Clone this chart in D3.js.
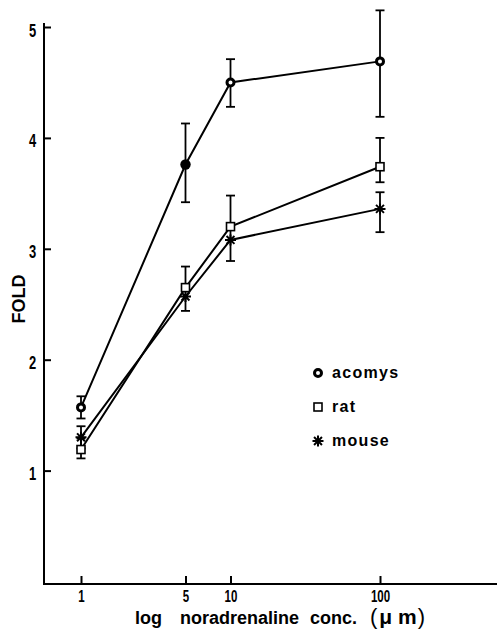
<!DOCTYPE html>
<html>
<head>
<meta charset="utf-8">
<script src="https://cdn.jsdelivr.net/npm/d3@7/dist/d3.min.js"></script>
<style>
  body { margin: 0; background: #fff; }
  svg text { fill: #000; }
</style>
</head>
<body>
<div id="chart"></div>
<script>
// noradrenaline concentrations (uM), one column per dose
const concs = [1, 5, 10, 100];

// fold values, with upper / lower error bar lengths
const acomys     = [1.57, 3.76, 4.50, 4.69];
const acomysUp   = [0.10, 0.37, 0.21, 0.46];
const acomysDown = [0.10, 0.34, 0.22, 0.50];

const rat     = [1.19, 2.65, 3.20, 3.74];
const ratUp   = [0.10, 0.19, 0.28, 0.26];
const ratDown = [0.08, 0.00, 0.12, 0.14];

const mouse     = [1.30, 2.57, 3.08, 3.36];
const mouseUp   = [0.10, 0.00, 0.00, 0.15];
const mouseDown = [0.10, 0.13, 0.19, 0.21];

const yTicks = [1, 2, 3, 4, 5];
const xTicks = [1, 5, 10, 100];
const legendNames = ["acomys", "rat", "mouse"];

const width = 497;
const height = 630;

const svg = d3.select("#chart")
  .append("svg")
  .attr("width", width)
  .attr("height", height);

// scales
const x = d3.scaleLog().domain([1, 100]).range([81, 380]);
const y = d3.scaleLinear().domain([0, 5]).range([581.5, 27]);

const axisX0 = 44;    // y axis position
const axisY0 = 584;   // x axis position
const plain = "'Liberation Sans', Arial, Helvetica, sans-serif";

/*
  Axes
*/

// y axis line
svg.append("line")
  .attr("x1", axisX0).attr("x2", axisX0)
  .attr("y1", 23).attr("y2", axisY0 + 1)
  .attr("stroke", "#000").attr("stroke-width", 2);

// x axis line
svg.append("line")
  .attr("x1", axisX0 - 1).attr("x2", width)
  .attr("y1", axisY0).attr("y2", axisY0)
  .attr("stroke", "#000").attr("stroke-width", 2);

// tick labels are squeezed sideways to look like the condensed type of the figure
const gy = svg.append("g")
  .attr("transform", `translate(${axisX0},0)`)
  .call(d3.axisLeft(y).tickValues(yTicks).tickFormat(d3.format("d"))
    .tickSize(-7).tickPadding(9));
gy.select(".domain").remove();
gy.selectAll(".tick line").attr("stroke", "#000").attr("stroke-width", 2);
gy.selectAll(".tick text")
  .attr("font-family", plain)
  .attr("font-weight", "bold")
  .attr("font-size", "18px")
  .attr("x", -11)
  .attr("dy", "0.5em")
  .attr("transform", "scale(0.72,1)");

const gx = svg.append("g")
  .attr("transform", `translate(0,${axisY0})`)
  .call(d3.axisBottom(x).tickValues(xTicks).tickFormat(d3.format("d"))
    .tickSize(-8).tickPadding(7));
gx.select(".domain").remove();
gx.selectAll(".tick line").attr("stroke", "#000").attr("stroke-width", 2);
gx.selectAll(".tick text")
  .attr("font-family", plain)
  .attr("font-weight", "bold")
  .attr("font-size", "16px")
  .attr("transform", "scale(0.72,1)");

// axis titles
svg.append("text")
  .attr("transform", "translate(25,299) rotate(-90)")
  .attr("text-anchor", "middle")
  .attr("font-family", plain)
  .attr("font-weight", "bold")
  .attr("font-size", "18px")
  .text("FOLD");

const xt = svg.append("text")
  .attr("y", 624)
  .attr("font-family", plain)
  .attr("font-weight", "bold")
  .attr("font-size", "18px");
xt.append("tspan").attr("x", 135).text("log");
xt.append("tspan").attr("x", 180).text("noradrenaline");
xt.append("tspan").attr("x", 310).text("conc.");
xt.append("tspan").attr("x", 370).attr("font-size", "22px")
  .attr("font-weight", "normal").text("(");
xt.append("tspan").attr("font-size", "21px").attr("dx", 2).text("\u03bc m");
xt.append("tspan").attr("font-size", "22px").attr("dx", 1)
  .attr("font-weight", "normal").text(")");

/*
  Series
*/

const series = [
  {name: legendNames[0], vals: acomys, up: acomysUp, down: acomysDown, shape: "circle"},
  {name: legendNames[1], vals: rat, up: ratUp, down: ratDown, shape: "square"},
  {name: legendNames[2], vals: mouse, up: mouseUp, down: mouseDown, shape: "star"}
];

const line = d3.line()
  .x((d, i) => x(concs[i]))
  .y(d => y(d));

// error bars
series.forEach(s => {
  const g = svg.append("g").attr("stroke", "#000").attr("stroke-width", 1.8);
  s.vals.forEach((v, i) => {
    const cx = x(concs[i]);
    const top = y(v + s.up[i]);
    const bot = y(v - s.down[i]);
    g.append("line").attr("x1", cx).attr("x2", cx).attr("y1", top).attr("y2", bot);
    if (s.up[i] > 0) {
      g.append("line").attr("x1", cx - 4.5).attr("x2", cx + 4.5).attr("y1", top).attr("y2", top);
    }
    if (s.down[i] > 0) {
      g.append("line").attr("x1", cx - 4.5).attr("x2", cx + 4.5).attr("y1", bot).attr("y2", bot);
    }
  });
});

// connecting lines
series.forEach(s => {
  svg.append("path")
    .datum(s.vals)
    .attr("d", line)
    .attr("fill", "none")
    .attr("stroke", "#000")
    .attr("stroke-width", 2);
});

// marker drawing
function drawMarker(g, shape, cx, cy, solid) {
  if (shape === "circle") {
    g.append("circle").attr("cx", cx).attr("cy", cy).attr("r", solid ? 5.2 : 3.5)
      .attr("fill", solid ? "#000" : "#fff").attr("stroke", "#000")
      .attr("stroke-width", solid ? 0 : 3);
  } else if (shape === "square") {
    g.append("rect").attr("x", cx - 4).attr("y", cy - 4)
      .attr("width", 8).attr("height", 8)
      .attr("fill", "#fff").attr("stroke", "#000").attr("stroke-width", 1.6);
  } else {
    const r = 5.5, d = r * 0.72;
    g.append("path")
      .attr("d", `M${cx - r},${cy}H${cx + r}M${cx},${cy - r}V${cy + r}` +
                 `M${cx - d},${cy - d}L${cx + d},${cy + d}M${cx - d},${cy + d}L${cx + d},${cy - d}`)
      .attr("stroke", "#000").attr("stroke-width", 2).attr("fill", "none");
  }
}

// the acomys point at 5 uM is printed as a solid dot in the figure
series.forEach(s => {
  const g = svg.append("g");
  s.vals.forEach((v, i) => drawMarker(g, s.shape, x(concs[i]), y(v), s.shape === "circle" && i === 1));
});

/*
  Legend
*/

const legend = svg.append("g");
series.forEach((s, i) => {
  const ly = 373 + i * 34;
  drawMarker(legend, s.shape, 318, ly, false);
  legend.append("text")
    .attr("x", 332).attr("y", ly + 5)
    .attr("font-family", plain)
    .attr("font-weight", "bold")
    .attr("font-size", "16px")
    .attr("letter-spacing", "1.3px")
    .text(s.name);
});
</script>
</body>
</html>
